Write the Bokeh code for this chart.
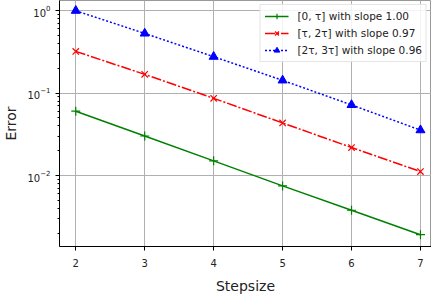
from bokeh.plotting import figure
from bokeh.models import Legend, LegendItem, Range1d, FixedTicker, LogTicker
from bokeh.embed import file_html
from bokeh.resources import INLINE

steps = [2, 3, 4, 5, 6, 7]
err_0 = [0.0604, 0.0302, 0.0151, 0.0075, 0.0038, 0.00192]
err_1 = [0.321, 0.169, 0.0865, 0.0435, 0.0219, 0.0112]
err_2 = [1.0, 0.53, 0.277, 0.143, 0.072, 0.0356]
labels = ["[0, \u03c4] with slope 1.00", "[\u03c4, 2\u03c4] with slope 0.97", "[2\u03c4, 3\u03c4] with slope 0.96"]

FONT = "DejaVu Sans"

p = figure(frame_width=372, frame_height=246, y_axis_type="log", output_backend="svg",
           toolbar_location=None, x_range=Range1d(1.764, 7.16),
           y_range=Range1d(0.00138, 1.33),
           min_border_left=58, min_border_right=0, min_border_top=0, min_border_bottom=0)

p.outline_line_color = "#999999"
p.background_fill_color = "white"

r0 = p.line(steps, err_0, line_color="#008000", line_width=1.5)
m0 = p.scatter(steps, err_0, marker="cross", size=9, line_color="#008000", line_width=1.2)
r1 = p.line(steps, err_1, line_color="#ff0000", line_width=1.5, line_dash="10 2 2 2")
m1 = p.scatter(steps, err_1, marker="x", size=9, line_color="#ff0000", line_width=1.2)
r2 = p.line(steps, err_2, line_color="#0000ff", line_width=1.5, line_dash="2 2")
m2 = p.scatter(steps, err_2, marker="triangle", size=9, fill_color="#0000ff", line_color="#0000ff")

legend = Legend(items=[LegendItem(label=labels[0], renderers=[r0, m0]),
                       LegendItem(label=labels[1], renderers=[r1, m1]),
                       LegendItem(label=labels[2], renderers=[r2, m2])],
                location="top_right")
legend.label_text_font = FONT
legend.label_text_font_size = "10.5px"
legend.label_text_color = "#222222"
legend.glyph_width = 24
legend.glyph_height = 14
legend.label_height = 14
legend.label_standoff = 9
legend.spacing = 3
legend.padding = 4
legend.margin = 4
legend.border_line_color = "#cccccc"
legend.background_fill_alpha = 0.85
p.add_layout(legend)

p.xaxis.ticker = FixedTicker(ticks=steps)
p.yaxis.ticker = LogTicker(num_minor_ticks=10)

for ax in (p.xaxis[0], p.yaxis[0]):
    ax.major_label_text_font = FONT
    ax.major_label_text_font_size = "10px"
    ax.major_label_text_color = "#222222"
    ax.axis_label_text_font = FONT
    ax.axis_label_text_font_size = "14px"
    ax.axis_label_text_font_style = "normal"
    ax.axis_label_text_color = "#222222"
    ax.axis_line_color = "black"
    ax.major_tick_line_color = "black"
    ax.minor_tick_line_color = "black"
    ax.major_tick_out = 4
    ax.major_tick_in = 0
    ax.minor_tick_out = 2
    ax.minor_tick_in = 0

p.xaxis.major_label_standoff = 8
p.xaxis.axis_label_standoff = 8
p.xaxis.axis_label = "Stepsize"
p.yaxis.axis_label = "Error"
p.xaxis.minor_tick_line_color = None

p.xgrid.grid_line_color = "#b0b0b0"
p.ygrid.grid_line_color = "#b0b0b0"
p.xgrid.grid_line_width = 1
p.ygrid.grid_line_width = 1

open("out.html", "w").write(file_html(p, INLINE))
